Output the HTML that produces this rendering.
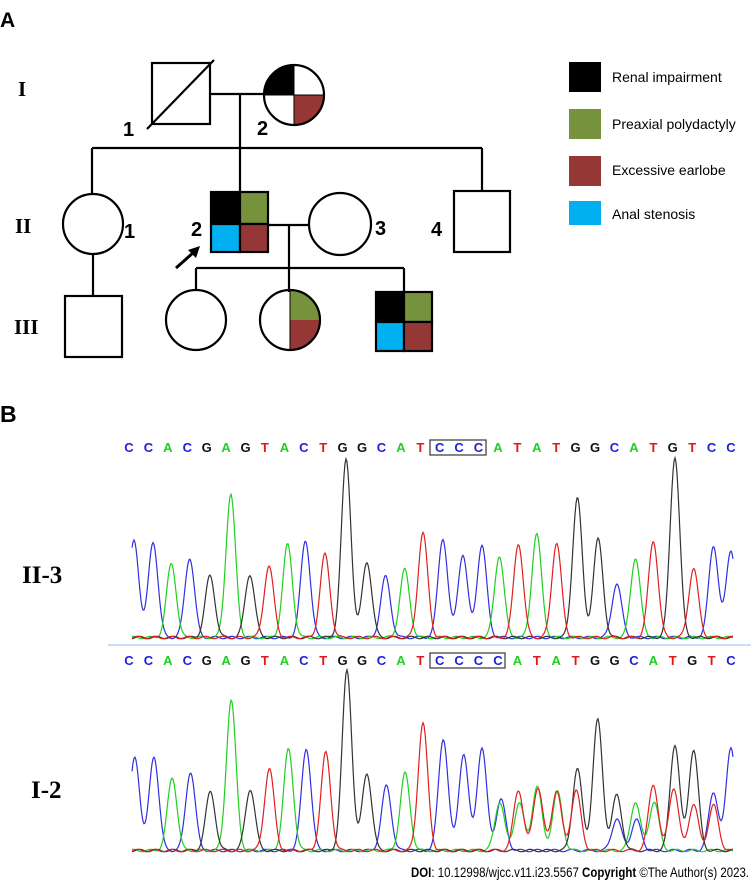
<!DOCTYPE html>
<html><head><meta charset="utf-8"><style>
html,body{margin:0;padding:0;background:#fff;}
svg{display:block;}
</style></head><body>
<svg id="s" width="751" height="885" viewBox="0 0 751 885" xmlns="http://www.w3.org/2000/svg" font-family="Liberation Sans, sans-serif">
<rect width="751" height="885" fill="#fff"/>
<text x="0" y="27" font-size="21" font-weight="bold">A</text>
<g font-family="Liberation Serif, serif" font-weight="bold" font-size="21">
<text x="18" y="96">I</text>
<text x="15" y="233">II</text>
<text x="14" y="334">III</text>
</g>
<g stroke="#000" stroke-width="2.2" fill="none">
<rect x="152" y="63" width="58" height="61" fill="#fff"/>
<line x1="147" y1="129" x2="214" y2="60"/>
<line x1="210" y1="94" x2="264" y2="94"/>
<line x1="240" y1="94" x2="240" y2="148"/>
<line x1="92" y1="148" x2="482" y2="148"/>
<line x1="92" y1="148" x2="92" y2="193"/>
<line x1="482" y1="148" x2="482" y2="191"/>
<line x1="240" y1="148" x2="240" y2="192"/>
<line x1="93" y1="254" x2="93" y2="296"/>
<line x1="268" y1="225" x2="310" y2="225"/>
<line x1="289" y1="225" x2="289" y2="292"/>
<line x1="196" y1="268" x2="404" y2="268"/>
<line x1="196" y1="268" x2="196" y2="290"/>
<line x1="404" y1="268" x2="404" y2="292"/>
</g>
<g>
<path d="M294 95 L264 95 A30 30 0 0 1 294 65 Z" fill="#000"/>
<path d="M294 95 L324 95 A30 30 0 0 1 294 125 Z" fill="#953735"/>
<circle cx="294" cy="95" r="30" fill="none" stroke="#000" stroke-width="2.2"/>
<line x1="294" y1="65" x2="294" y2="125" stroke="#000" stroke-width="1"/>
<line x1="264" y1="95" x2="324" y2="95" stroke="#000" stroke-width="1"/>
</g>
<circle cx="93" cy="224" r="30" fill="#fff" stroke="#000" stroke-width="2.2"/>
<g stroke="#000" stroke-width="2.2">
<rect x="211" y="192" width="29" height="32" fill="#000"/>
<rect x="240" y="192" width="28" height="32" fill="#76923c"/>
<rect x="211" y="224" width="29" height="28" fill="#00b0f0"/>
<rect x="240" y="224" width="28" height="28" fill="#953735"/>
</g>
<circle cx="340" cy="224" r="31" fill="#fff" stroke="#000" stroke-width="2.2"/>
<rect x="454" y="191" width="56" height="61" fill="#fff" stroke="#000" stroke-width="2.2"/>
<line x1="176" y1="268" x2="194" y2="252" stroke="#000" stroke-width="3"/>
<polygon points="200,246 188,250 196,258" fill="#000"/>
<rect x="65" y="296" width="57" height="61" fill="#fff" stroke="#000" stroke-width="2.2"/>
<circle cx="196" cy="320" r="30" fill="#fff" stroke="#000" stroke-width="2.2"/>
<path d="M290 320 L290 290 A30 30 0 0 1 320 320 Z" fill="#76923c"/>
<path d="M290 320 L320 320 A30 30 0 0 1 290 350 Z" fill="#953735"/>
<circle cx="290" cy="320" r="30" fill="none" stroke="#000" stroke-width="2.2"/>
<line x1="290" y1="290" x2="290" y2="350" stroke="#000" stroke-width="1"/>
<g stroke="#000" stroke-width="2.2">
<rect x="376" y="292" width="28" height="30" fill="#000"/>
<rect x="404" y="292" width="28" height="30" fill="#76923c"/>
<rect x="376" y="322" width="28" height="29" fill="#00b0f0"/>
<rect x="404" y="322" width="28" height="29" fill="#953735"/>
</g>
<g font-size="20" font-weight="bold">
<text x="123" y="136">1</text>
<text x="257" y="135">2</text>
<text x="124" y="238">1</text>
<text x="191" y="236">2</text>
<text x="375" y="235">3</text>
<text x="431" y="236">4</text>
</g>
<rect x="569" y="62" width="32" height="30" fill="#000"/>
<rect x="569" y="109" width="32" height="30" fill="#76923c"/>
<rect x="569" y="156" width="32" height="30" fill="#953735"/>
<rect x="569" y="201" width="32" height="24" fill="#00b0f0"/>
<g font-size="14">
<text x="612" y="82">Renal impairment</text>
<text x="612" y="129">Preaxial polydactyly</text>
<text x="612" y="175">Excessive earlobe</text>
<text x="612" y="219">Anal stenosis</text>
</g>
<text x="0" y="422" font-size="23" font-weight="bold">B</text>
<g font-family="Liberation Serif, serif" font-weight="bold" font-size="25">
<text x="22" y="583">II-3</text>
<text x="31" y="798">I-2</text>
</g>
<line x1="108" y1="645" x2="751" y2="645" stroke="#9ab8e8" stroke-width="1"/>
<rect x="430" y="440" width="56" height="15" fill="none" stroke="#444" stroke-width="1.3"/>
<rect x="430" y="653" width="75" height="15" fill="none" stroke="#444" stroke-width="1.3"/>
<g id="chrom"></g>
<text x="749" y="877" font-size="14" text-anchor="end" textLength="338" lengthAdjust="spacingAndGlyphs"><tspan font-weight="bold">DOI</tspan>: 10.12998/wjcc.v11.i23.5567  <tspan font-weight="bold">Copyright</tspan> ©The Author(s) 2023.</text>
</svg>
<script>
(function(){
var NS="http://www.w3.org/2000/svg",g=document.getElementById("chrom");
var col={b:"#3030e0",g:"#20d020",k:"#333",r:"#e02020"};
var lc={C:"#2020d8",A:"#20d020",G:"#111",T:"#e01818"};
function X(z){return z/2.409+100;}
function letters(seq,y){for(var i=0;i<seq.length;i++){var t=document.createElementNS(NS,"text");var x=129+i*(602/(seq.length-1));t.setAttribute("x",x.toFixed(1));t.setAttribute("y",y);t.setAttribute("font-size","13");t.setAttribute("font-weight","bold");t.setAttribute("text-anchor","middle");t.setAttribute("fill",lc[seq[i]]);t.textContent=seq[i];g.appendChild(t);}}
function trace(peaks,base,off){var by={b:[],g:[],k:[],r:[]};peaks.forEach(function(p){by[p[0]].push([X(p[1]),base-(p[2]/3+off)]);});
 for(var c in by){var d="";for(var x=132;x<=733;x+=1){var v=0;by[c].forEach(function(p){var s=4.8;v+=p[1]*Math.exp(-Math.pow((x-p[0])/s,2)/2);});v+=1.5+1.2*Math.sin(x*0.37+c.charCodeAt(0));var y=base-v;d+=(x==132?"M":"L")+x+" "+y.toFixed(1);}
 var pa=document.createElementNS(NS,"path");pa.setAttribute("d",d);pa.setAttribute("fill","none");pa.setAttribute("stroke",col[c]);pa.setAttribute("stroke-width","1.2");g.appendChild(pa);}}
letters("CCACGAGTACTGGCATCCCATATGGCATGTCC",452);
letters("CCACGAGTACTGGCATCCCCATATGGCATGTC",665);
var b1=639;
trace([["b",82,335],["b",128,340],["g",172,405],["b",216,388],["k",265,442],["g",315,197],["k",361,438],["r",407,412],["g",452,348],["b",495,336],["r",542,377],["k",593,93],["k",643,400],["b",688,444],["g",734,423],["r",778,313],["b",826,330],["b",874,378],["b",920,350],["g",962,382],["r",1008,345],["g",1052,315],["r",1100,343],["k",1150,207],["k",1200,332],["b",1245,465],["g",1290,388],["r",1333,337],["k",1385,85],["r",1430,420],["b",1478,352],["b",1520,365]],b1,430);
var b2=852;
trace([["b",84,355],["b",130,353],["g",174,418],["b",218,400],["k",266,460],["g",316,185],["k",362,452],["r",408,390],["g",454,332],["b",497,330],["r",544,342],["k",595,95],["k",643,404],["b",690,442],["g",735,404],["r",778,254],["b",827,300],["b",876,346],["b",920,328],["b",966,483],["g",963,490],["r",1008,454],["g",1010,492],["g",1053,444],["r",1055,446],["r",1100,456],["g",1102,460],["k",1150,390],["r",1147,456],["k",1199,244],["k",1245,470],["b",1245,540],["b",1292,543],["g",1290,490],["r",1333,438],["g",1335,489],["k",1385,318],["r",1382,448],["k",1430,333],["r",1430,498],["b",1478,461],["r",1478,500],["b",1520,325]],b2,640);
})();
</script>
</body></html>
